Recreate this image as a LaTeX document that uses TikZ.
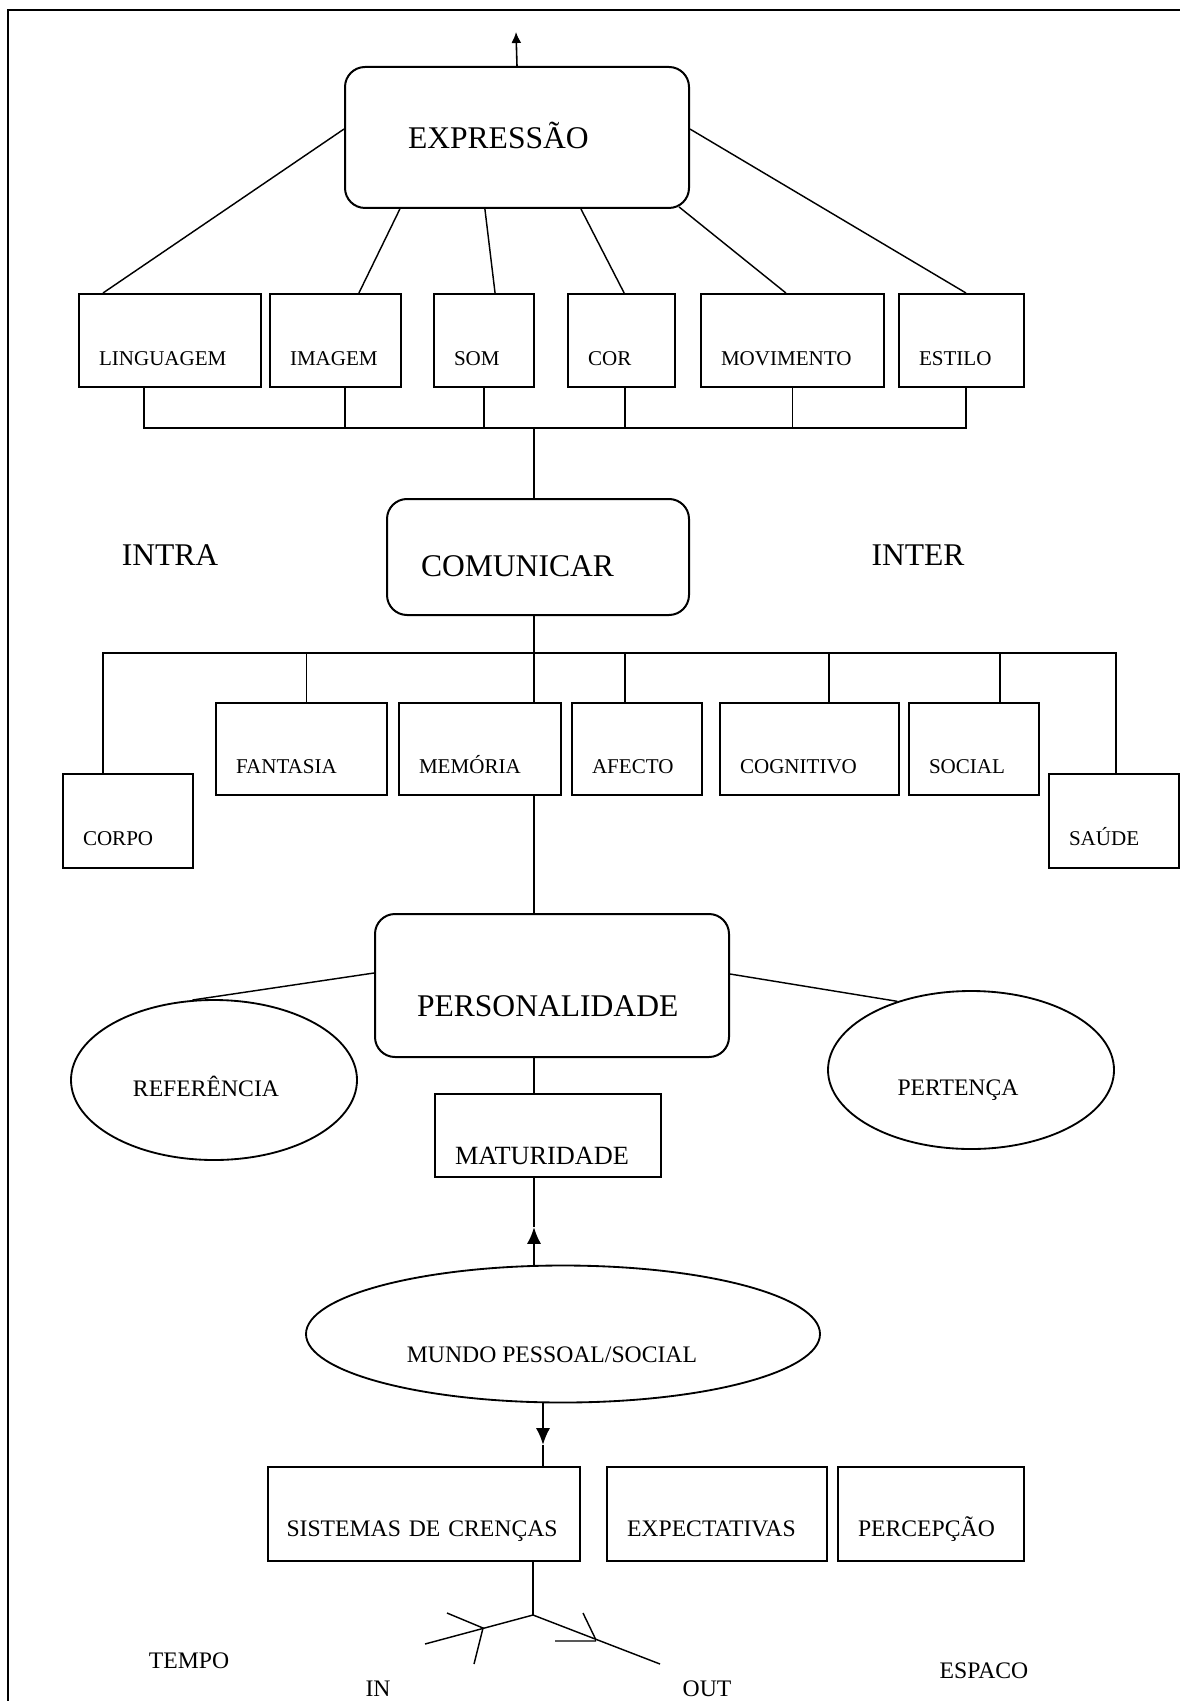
\documentclass[tikz,border=0pt]{standalone}
\usepackage{fontspec}
\setmainfont{Liberation Serif}
\usetikzlibrary{arrows.meta,shapes.geometric}

\newcommand{\fdoze}{\fontsize{12}{14}\selectfont}
\newcommand{\fdez}{\fontsize{10}{12}\selectfont}
\newcommand{\fnove}{\fontsize{9}{11}\selectfont}
\newcommand{\foito}{\fontsize{8}{10}\selectfont}

\begin{document}
\begin{tikzpicture}[x=0.38pt, y=-0.38pt, line width=0.55pt,
	sq/.style={draw, rectangle, line width=0.76pt, inner xsep=7.6pt, inner ysep=0pt, align=left, text width=#1, anchor=north west},
	rnd/.style={draw, rectangle, rounded corners=7.6pt, line width=0.76pt, inner ysep=0pt, align=left, anchor=north west, font=\fdoze},
	rowA/.style={font=\foito, text height=27.36pt, text depth=7.98pt},
	rowB/.style={font=\foito, text height=26.6pt, text depth=8.36pt},
	rowC/.style={font=\foito, text height=26.98pt, text depth=8.74pt},
	rowD/.style={font=\fnove, text height=26.22pt, text depth=9.5pt},
	ell/.style={draw, ellipse, line width=0.7pt, inner sep=0pt},
	lbl/.style={font=\fnove},
	txt/.style={inner sep=0pt, anchor=base},
	seta/.style={line width=0.9pt, -{Latex[length=6.4pt,width=5.4pt]}},
	seta1/.style={line width=0.6pt, -{Latex[length=4.2pt,width=3.8pt]}}]
	\useasboundingbox (0,0) rectangle (1180,1701);
	\draw[line width=0.76pt] (8,1701) -- (8,10) -- (1180,10);
	
	\node[rnd, inner xsep=23.94pt, text width=82.84pt, text height=30.97pt, text depth=22.6pt] (expr) at (344,66) {EXPRESSÃO};
	\coordinate (topo) at (516,32);
	\draw[seta1] (expr.north) -- (topo);
	
	\node[sq=53.96pt, rowA] (lingua) at (78,293) {LINGUAGEM};
	\node[sq=34.58pt, rowA] (imagem) at (269,293) {IMAGEM};
	\node[sq=22.8pt, rowA] (som) at (433,293) {SOM};
	\node[sq=25.46pt, rowA] (cor) at (567,293) {COR};
	\node[sq=54.34pt, rowA] (movim) at (700,293) {MOVIMENTO};
	\node[sq=32.3pt, rowA] (estilo) at (898,293) {ESTILO};
	
	\draw ([yshift=3.2pt]expr.west) -- ([xshift=9.5pt]lingua.north west);
	\draw ([xshift=-44.5pt]expr.south) -- ([xshift=8.9pt]imagem.north);
	\draw ([xshift=-12.2pt]expr.south) -- ([xshift=4.2pt]som.north);
	\draw ([xshift=24.3pt]expr.south) -- ([xshift=1pt]cor.north);
	\draw ([xshift=-4.2pt,yshift=0.8pt]expr.south east) -- ([xshift=-2.5pt]movim.north);
	\draw ([yshift=3.2pt]expr.east) -- ([xshift=1.7pt]estilo.north);
	
	\coordinate (bus1) at (534,428);
	\draw ([xshift=-9.88pt]lingua.south) |- (bus1) -| ([xshift=1.71pt]estilo.south);
	\foreach \n/\s in {imagem/3.61,som/0,cor/1.33,movim/0}
		\draw ([xshift=\s pt]\n.south) |- (bus1);
	
	\node[rnd, inner xsep=12.92pt, text width=88.92pt, text height=29.45pt, text depth=14.63pt] (comun) at (386,498) {COMUNICAR};
	\draw (bus1) -- (bus1 |- comun.north);
	\node[txt, font=\fdoze] (intra) at (170,565.5) {INTRA};
	\node[txt, font=\fdoze] (inter) at (918,565.5) {INTER};
	
	\node[sq=34.2pt, rowC] (corpo) at (62,773) {CORPO};
	\node[sq=49.78pt, rowB] (fantas) at (215,702) {FANTASIA};
	\node[sq=46.36pt, rowB] (memor) at (398,702) {MEMÓRIA};
	\node[sq=34.2pt, rowB] (afecto) at (571,702) {AFECTO};
	\node[sq=52.82pt, rowB] (cognit) at (719,702) {COGNITIVO};
	\node[sq=34.2pt, rowB] (social) at (908,702) {SOCIAL};
	\node[sq=34.2pt, rowC] (saude) at (1048,773) {SAÚDE};
	
	\coordinate (bus2) at (534,653);
	\draw (bus2 |- comun.south) -- (bus2 |- memor.north);
	\draw ([xshift=-9.5pt]corpo.north) |- (bus2) -| ([xshift=0.76pt]saude.north);
	\foreach \n/\s in {fantas/1.9,afecto/-4.56,cognit/7.41,social/9.88}
		\draw ([xshift=\s pt]\n.north) |- (bus2);
	
	\node[rnd, inner xsep=15.96pt, text width=102.6pt, text height=38.95pt, text depth=15.39pt] (person) at (374,913) {PERSONALIDADE};
	\draw (bus2 |- memor.south) -- (bus2 |- person.north);
	
	\node[ell, minimum width=108.68pt, minimum height=60.8pt, label={[lbl, xshift=-3.04pt, yshift=-2.4pt]center:REFERÊNCIA}] (refer) at (214,1080) {};
	\node[ell, minimum width=108.68pt, minimum height=60.04pt, label={[lbl, xshift=-4.94pt, yshift=-7.5pt]center:PERTENÇA}] (perten) at (971,1070) {};
	\draw ([yshift=4.75pt]person.west) -- (refer.105);
	\draw ([yshift=4.37pt]person.east) -- (perten.137);
	
	\node[sq=70.68pt, font=\fdez, text height=26.6pt, text depth=4.94pt] (matur) at (434,1093) {MATURIDADE};
	\draw (bus2 |- person.south) -- (bus2 |- matur.north);
	
	\node[ell, minimum width=195.32pt, minimum height=52.06pt, label={[lbl, xshift=-4.18pt, yshift=-7.98pt]center:MUNDO PESSOAL/SOCIAL}] (mundo) at (563,1334) {};
	\coordinate (pontaC) at (534,1227);
	\draw (bus2 |- matur.south) -- (pontaC);
	\draw[seta] (bus2 |- mundo.north) -- (pontaC);
	
	\coordinate (pontaB) at (543,1445);
	\draw[seta] (pontaB |- mundo.south) -- (pontaB);
	
	\node[sq=104.5pt, rowD, inner xsep=7.03pt] (sistem) at (267,1466) {SISTEMAS DE CRENÇAS};
	\node[sq=68.4pt, rowD] (expect) at (606,1466) {EXPECTATIVAS};
	\node[sq=55.48pt, rowD] (percep) at (837,1466) {PERCEPÇÃO};
	\draw (pontaB) -- (pontaB |- sistem.north);
	
	\coordinate (junc) at (533,1615);
	\coordinate (inP) at (425,1644);
	\coordinate (outP) at (660,1664);
	\draw (junc |- sistem.south) -- (junc);
	\draw (inP) -- (junc) -- (outP);
	\draw (447,1613) -- (483,1628) -- (474,1664);
	\draw (583,1613) -- (596,1640) (555,1641) -- (596,1641);
	
	\node[txt, font=\fnove] (tempo) at (189,1668) {TEMPO};
	\node[txt, font=\fnove] (entra) at (378,1696) {IN};
	\node[txt, font=\fnove] (sai) at (707,1696) {OUT};
	\node[txt, font=\fnove] (espaco) at (984,1678) {ESPACO};
\end{tikzpicture}
\end{document}
